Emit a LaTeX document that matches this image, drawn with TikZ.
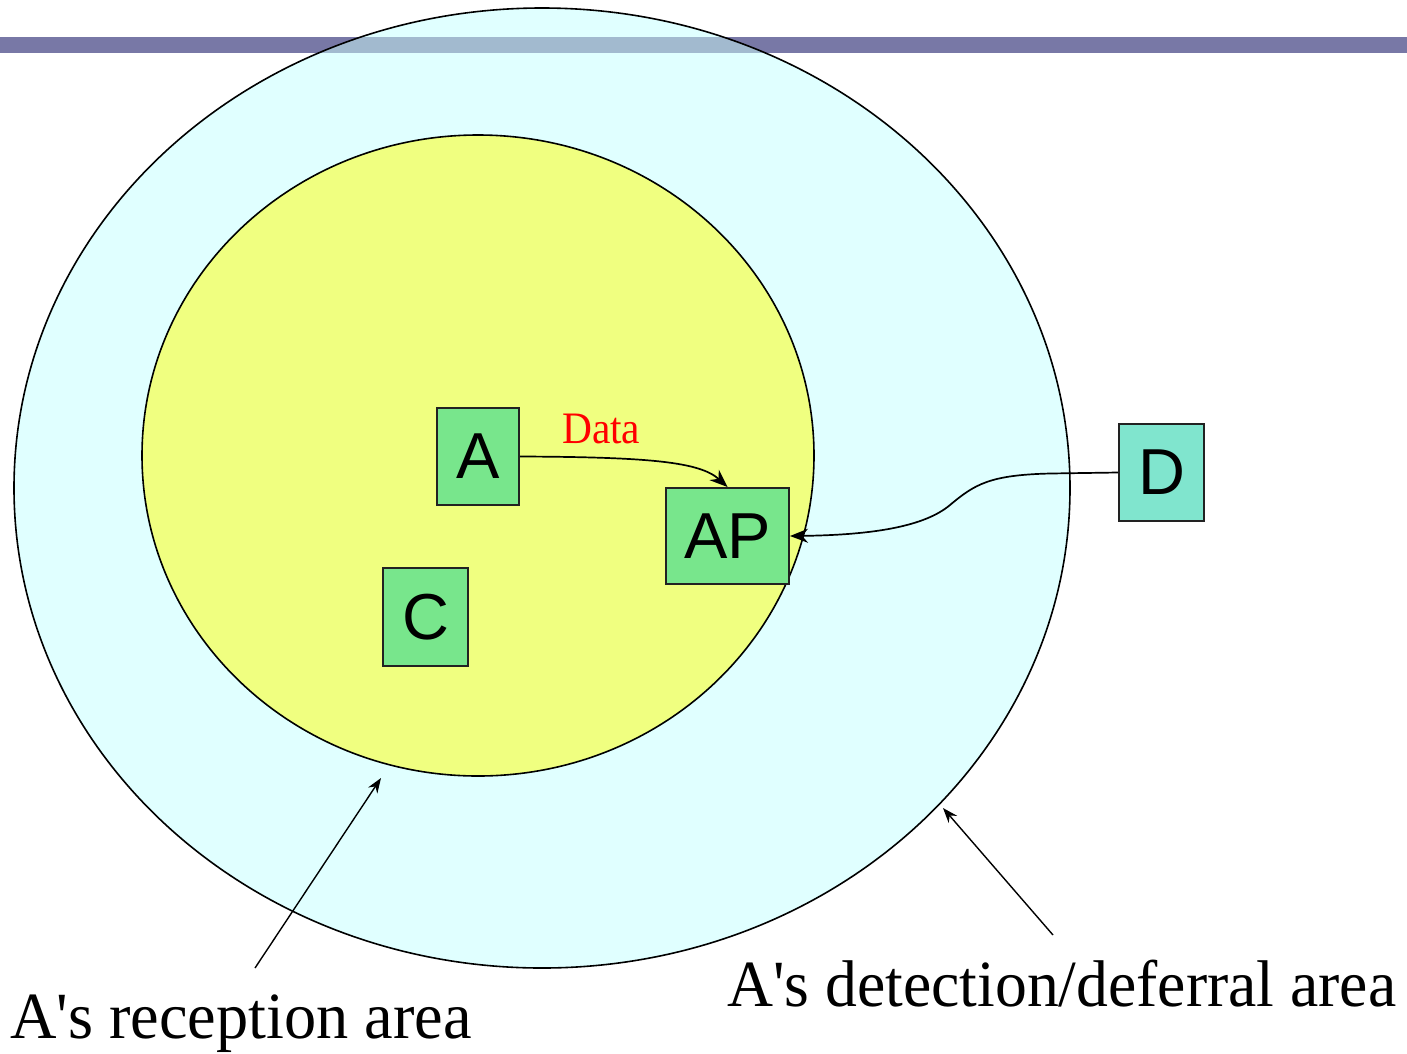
\documentclass[tikz,border=0pt]{standalone}
\usepackage{fontspec}
\setmainfont{Liberation Serif}
\newfontfamily\boxfont{Liberation Sans}
\usetikzlibrary{arrows.meta}

\definecolor{barblue}{HTML}{7878A6}
\definecolor{barlight}{HTML}{A2BACF}
\definecolor{detectfill}{HTML}{E0FFFF}
\definecolor{receptfill}{HTML}{F0FF80}
\definecolor{stationgreen}{HTML}{78E68C}
\definecolor{stationteal}{HTML}{80E5CE}
\definecolor{boxline}{HTML}{222222}

\tikzset{
  station/.style={draw=boxline, line width=2pt, fill=stationgreen, inner sep=0pt,
    font=\boxfont\fontsize{65}{65}\selectfont},
  zone/.style={draw=black, line width=1.6pt},
  link/.style={draw=black, line width=1.7pt, -{Stealth[length=18pt,width=14pt]}},
  pointer/.style={draw=black, line width=1.4pt, -{Stealth[length=15pt,width=11pt]}},
  caption/.style={inner sep=0pt, anchor=base west, font=\fontsize{66}{70}\selectfont}
}

\begin{document}
\begin{tikzpicture}[x=1pt, y=-1pt]
  \useasboundingbox (0,0) rectangle (1407,1053);

  % title bar
  \fill[barblue] (0,37) rectangle (1407,53);

  % detection / deferral area
  \fill[detectfill] (542,488) ellipse [x radius=528, y radius=480];
  \begin{scope}
    \clip (542,488) ellipse [x radius=528, y radius=480];
    \fill[barlight] (0,37) rectangle (1407,53);
  \end{scope}
  \draw[zone] (542,488) ellipse [x radius=528, y radius=480];

  % reception area
  \draw[zone, fill=receptfill] (478,455.5) ellipse [x radius=336, y radius=320.5];

  % stations
  \node[station, minimum width=82pt, minimum height=97pt] (A)  at (478,456.5) {A};
  \node[station, minimum width=123pt, minimum height=96pt] (AP) at (727.5,536) {AP};
  \node[station, minimum width=85pt, minimum height=98pt] (C)  at (425.5,617) {C};
  \node[station, fill=stationteal, minimum width=85pt, minimum height=97pt] (D) at (1161.5,472.5) {D};

  % data transfer A -> AP
  \node[inner sep=0pt, anchor=base west, text=red, font=\fontsize{45}{45}\selectfont]
    (data) at (562,443) {\scalebox{0.92}[1]{Data}};
  \draw[link] (A.east) .. controls (650,457) and (700,462) .. (AP.north);

  % D -> AP
  \draw[link] (D.west) -- (1050,473.5)
    .. controls (990,475) and (975,484) .. (950,505)
    .. controls (925,526) and (875,535) .. (AP.east);

  % captions with pointers
  \node[caption] (reclabel) at (10,1038)
    {\scalebox{0.975}[1]{A\textquotesingle s reception area}};
  \node[caption] (detlabel) at (727,1006)
    {\scalebox{0.965}[1]{A\textquotesingle s detection/deferral area}};
  \coordinate (recfrom) at (255,968);
  \coordinate (recto) at (381,778);
  \coordinate (detfrom) at (1053,935);
  \coordinate (detto) at (943,808);
  \draw[pointer] (recfrom) -- (recto);
  \draw[pointer] (detfrom) -- (detto);
\end{tikzpicture}
\end{document}
